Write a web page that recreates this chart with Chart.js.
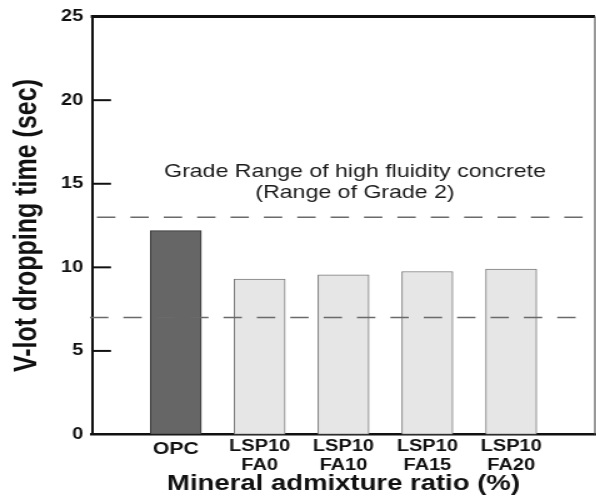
<!DOCTYPE html>
<html>
<head>
<meta charset="utf-8">
<script src="https://cdn.jsdelivr.net/npm/chart.js@4.4.0/dist/chart.umd.min.js"></script>
<style>
  html, body { margin: 0; padding: 0; background: #fff; overflow: hidden; }
  /* the figure is drawn narrow and stretched sideways, like the printed plot */
  #wrap { width: 477px; height: 496px; transform: scale(1.25, 1); transform-origin: 0 0; }
  canvas { display: block; }
</style>
</head>
<body>
<div id="wrap"><canvas id="chart" width="477" height="496"></canvas></div>
<script>
// V-lot dropping time per mix
const categories = ['OPC', 'LSP10\nFA0', 'LSP10\nFA10', 'LSP10\nFA15', 'LSP10\nFA20'];
const droppingTime = [12.2, 9.3, 9.55, 9.75, 9.9];
const barFill = ['#666666', '#e6e6e6', '#e6e6e6', '#e6e6e6', '#e6e6e6'];
const barEdge = ['#333333', '#7a7a7a', '#7a7a7a', '#7a7a7a', '#7a7a7a'];
const yTicks = [0, 5, 10, 15, 20, 25];
const gradeRange = [7, 13];
const rangeNote = ['Grade Range of high fluidity concrete', '(Range of Grade 2)'];

const FONT = "'Liberation Sans', Arial, sans-serif";

// frame, inward ticks, grade-range dashes and the note
const guides = {
  id: 'guides',
  afterDatasetsDraw(chart, args, opts) {
    const {ctx, chartArea: a, scales: {y}} = chart;
    ctx.save();

    // dashed limits of the grade range
    ctx.strokeStyle = '#6a6a6a';
    ctx.lineWidth = 1.4;
    ctx.setLineDash([14.7, 12]);
    gradeRange.forEach((v, i) => {
      const py = y.getPixelForValue(v);
      const [x0, x1] = opts.spans[i];
      ctx.beginPath();
      ctx.moveTo(x0, py);
      ctx.lineTo(x1, py);
      ctx.stroke();
    });
    ctx.setLineDash([]);

    // inward tick marks on the value axis
    ctx.strokeStyle = '#111';
    ctx.lineWidth = 2;
    yTicks.slice(1, -1).forEach(v => {
      const py = y.getPixelForValue(v);
      ctx.beginPath();
      ctx.moveTo(a.left, py);
      ctx.lineTo(a.left + 15.2, py);
      ctx.stroke();
    });

    // top and right edges of the frame
    ctx.lineWidth = 3;
    ctx.beginPath();
    ctx.moveTo(a.left - 1, a.top);
    ctx.lineTo(a.right, a.top);
    ctx.stroke();
    ctx.strokeStyle = '#555';
    ctx.lineWidth = 1.2;
    ctx.beginPath();
    ctx.moveTo(a.right, a.top);
    ctx.lineTo(a.right, a.bottom);
    ctx.stroke();

    // note above the range
    ctx.fillStyle = '#1a1a1a';
    ctx.font = '18.5px ' + FONT;
    ctx.textAlign = 'center';
    ctx.textBaseline = 'alphabetic';
    rangeNote.forEach((t, i) => ctx.fillText(t, opts.noteX, opts.noteY[i]));
    ctx.restore();
  }
};

new Chart(document.getElementById('chart'), {
  type: 'bar',
  data: {
    datasets: [{
      data: droppingTime.map((v, i) => ({x: i + 1, y: v})),
      backgroundColor: barFill,
      borderColor: barEdge,
      borderWidth: 1,
      borderSkipped: false,
      barThickness: 40.8
    }]
  },
  options: {
    responsive: false,
    animation: false,
    events: [],
    layout: {padding: {top: 14, right: 1, left: 0, bottom: 0}},
    plugins: {
      legend: {display: false},
      tooltip: {enabled: false},
      guides: {
        spans: [[72, 462.4], [77.6, 476]],
        noteX: 284,
        noteY: [177, 198]
      }
    },
    scales: {
      x: {
        type: 'linear',
        offset: false,
        min: 0,
        max: categories.length + 1,
        afterBuildTicks: s => { s.ticks = categories.map((c, i) => ({value: i + 1})); },
        afterFit: s => { s.height = 61.5; },
        grid: {display: false, drawTicks: false},
        border: {display: true, color: '#111', width: 2.5},
        ticks: {
          autoSkip: false,
          maxRotation: 0,
          padding: 2.4,
          color: '#111',
          callback: v => (categories[v - 1] || '').split('\n'),
          font: c => c.index === 0
            ? {family: FONT, size: 17, weight: 'bold', lineHeight: 1.47}
            : {family: FONT, size: 16, weight: 'bold', lineHeight: 1.2}
        },
        title: {
          display: true,
          text: 'Mineral admixture ratio (%)',
          color: '#111',
          font: {family: FONT, size: 22, weight: 'bold', lineHeight: 1},
          padding: {top: 0, bottom: 1}
        }
      },
      y: {
        min: 0,
        max: 25,
        afterBuildTicks: s => { s.ticks = yTicks.map(v => ({value: v})); },
        afterFit: s => { s.width = 73.6; },
        grid: {display: false, drawTicks: false},
        border: {display: true, color: '#111', width: 2},
        ticks: {
          padding: 7,
          color: '#111',
          font: {family: FONT, size: 16, weight: 'bold'}
        },
        title: {
          display: true,
          text: 'V-lot dropping time (sec)',
          color: '#111',
          font: {family: FONT, size: 25, weight: 'bold', lineHeight: 1},
          padding: {top: 10, bottom: 0}
        }
      }
    }
  },
  plugins: [guides]
});
</script>
</body>
</html>
